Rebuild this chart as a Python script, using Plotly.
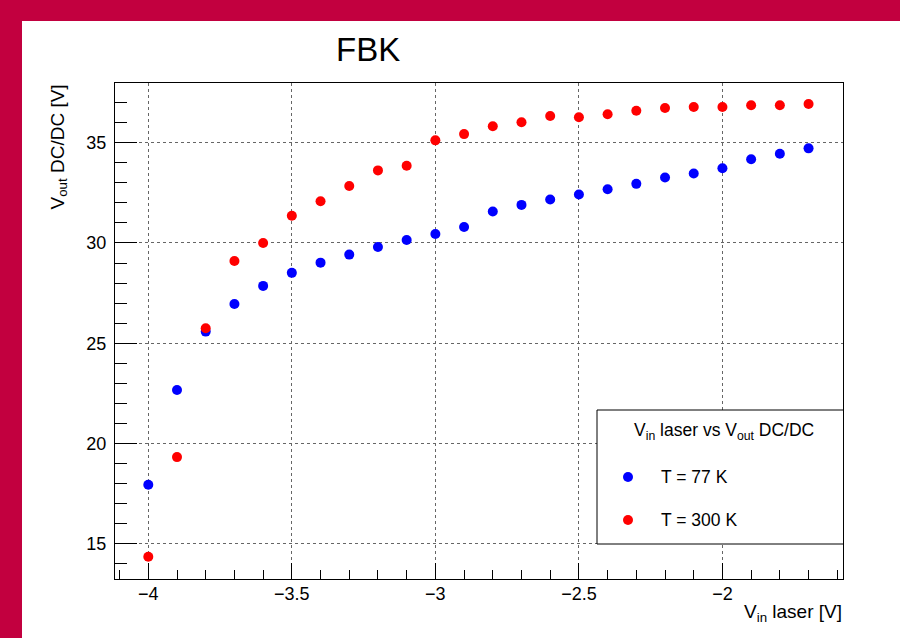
import plotly.graph_objects as go

# ---- data ----
v_in = [-4.0, -3.9, -3.8, -3.7, -3.6, -3.5, -3.4, -3.3, -3.2, -3.1, -3.0, -2.9,
        -2.8, -2.7, -2.6, -2.5, -2.4, -2.3, -2.2, -2.1, -2.0, -1.9, -1.8, -1.7]
v_out_77K = [17.94, 22.67, 25.58, 26.96, 27.86, 28.51, 29.02, 29.42, 29.80, 30.15,
             30.45, 30.80, 31.57, 31.90, 32.17, 32.42, 32.68, 32.95, 33.27, 33.47,
             33.73, 34.18, 34.45, 34.72]
v_out_300K = [14.35, 19.32, 25.75, 29.10, 30.00, 31.36, 32.08, 32.84, 33.62, 33.85,
              35.12, 35.43, 35.82, 36.02, 36.33, 36.27, 36.42, 36.60, 36.73, 36.78,
              36.78, 36.87, 36.87, 36.93]
series_names = ["T = 77 K", "T = 300 K"]
series_colors = ["#0000ff", "#ff0000"]
title_text = "FBK"
legend_title = "V<sub>in</sub> laser vs V<sub>out</sub> DC/DC"
x_title = "V<sub>in</sub> laser [V]"
y_title = "V<sub>out</sub> DC/DC [V]"
x_ticks = [-4, -3.5, -3, -2.5, -2]
y_ticks = [15, 20, 25, 30, 35]

W, H = 900, 638
ML, MR, MT, MB = 115, 57, 83, 59
PW, PH = W - ML - MR, H - MT - MB


def px(xp):
    return (xp - ML) / PW


def py(yp):
    return (H - MB - yp) / PH


FONT = "Liberation Sans, Arial, Helvetica, sans-serif"

fig = go.Figure()
for name, ys, col in zip(series_names, [v_out_77K, v_out_300K], series_colors):
    fig.add_trace(go.Scatter(x=v_in, y=ys, mode="markers", name=name,
                             marker=dict(color=col, size=10, line=dict(width=0))))

shapes = []
# white inner area (crimson frame shows at top/left)
shapes.append(dict(type="rect", xref="paper", yref="paper", layer="below",
                   x0=px(22), x1=px(905), y0=py(645), y1=py(21),
                   fillcolor="white", line=dict(width=0)))
# legend box
shapes.append(dict(type="rect", xref="paper", yref="paper", layer="above",
                   x0=px(597), x1=px(843.5), y0=py(544), y1=py(410),
                   fillcolor="white", line=dict(color="black", width=1)))
annotations = []
for i, (name, col) in enumerate(zip(series_names, series_colors)):
    yc = 477 + 43 * i
    shapes.append(dict(type="circle", xref="paper", yref="paper", layer="above",
                       xsizemode="pixel", ysizemode="pixel",
                       xanchor=px(628), yanchor=py(yc), x0=-5, x1=5, y0=-5, y1=5,
                       fillcolor=col, line=dict(width=0)))
    annotations.append(dict(text=name, xref="paper", yref="paper",
                            x=px(659), y=py(yc), xanchor="left", yanchor="middle",
                            showarrow=False, font=dict(family=FONT, size=17.5, color="black")))
annotations.append(dict(text=legend_title, xref="paper", yref="paper",
                        x=px(724), y=py(431), xanchor="center", yanchor="middle",
                        showarrow=False, font=dict(family=FONT, size=17.5, color="black")))
annotations.append(dict(text=title_text, xref="paper", yref="paper",
                        x=px(368), y=py(50), xanchor="center", yanchor="middle",
                        showarrow=False, font=dict(family=FONT, size=33, color="black")))
annotations.append(dict(text=x_title, xref="paper", yref="paper",
                        x=px(844), y=py(613), xanchor="right", yanchor="middle",
                        showarrow=False, font=dict(family=FONT, size=19, color="black")))
annotations.append(dict(text=y_title, xref="paper", yref="paper", textangle=-90,
                        x=px(58), y=py(83), xanchor="center", yanchor="top",
                        showarrow=False, font=dict(family=FONT, size=19, color="black")))

axis_common = dict(showline=True, mirror=True, linecolor="black", linewidth=1,
                   ticks="inside", tickcolor="black", tickwidth=1,
                   showgrid=True, gridcolor="#666666", griddash="dot", gridwidth=1,
                   zeroline=False, tickfont=dict(family=FONT, size=18, color="black"))

fig.update_layout(
    width=W, height=H,
    margin=dict(l=ML, r=MR, t=MT, b=MB, pad=0),
    paper_bgcolor="#c2003f", plot_bgcolor="white",
    showlegend=False,
    shapes=shapes, annotations=annotations,
    xaxis=dict(range=[-4.116, -1.58], tickvals=x_ticks, ticklen=16,
               ticklabelstandoff=-2,
               minor=dict(ticks="inside", ticklen=9, dtick=0.1, tick0=-4,
                          tickcolor="black", showgrid=False),
               **axis_common),
    yaxis=dict(range=[13.24, 37.98], tickvals=y_ticks, ticklen=22,
               ticklabelstandoff=4,
               minor=dict(ticks="inside", ticklen=12, dtick=1, tick0=15,
                          tickcolor="black", showgrid=False),
               **axis_common),
)

fig.write_html("out.html", config={"displayModeBar": False},
               post_script="document.body.style.margin='0';document.body.style.overflow='hidden';")
